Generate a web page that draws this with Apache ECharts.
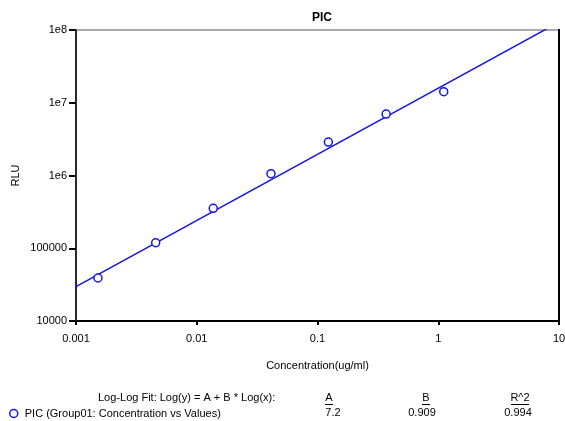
<!DOCTYPE html>
<html><head><meta charset="utf-8">
<script src="https://cdn.jsdelivr.net/npm/echarts@6/dist/echarts.min.js"></script>
<style>html,body{margin:0;padding:0;background:#fff}#c{width:565px;height:421px}</style>
</head><body><div id="c"></div>
<script>
var concentrations = [0.00152, 0.00457, 0.0137, 0.0412, 0.123, 0.370, 1.11];
var rluValues = [39000, 119000, 354000, 1060000, 2880000, 7000000, 14200000];
var fitA = 7.2, fitB = 0.909, fitR2 = 0.994;
var fitX = [0.001, 10];
var fitLine = fitX.map(function (x) { return [x, Math.pow(10, fitA + fitB * Math.log10(x))]; });
var yTickLabels = {10000: '10000', 100000: '100000', 1000000: '1e6', 10000000: '1e7', 100000000: '1e8'};
var xTickLabels = {0.001: '0.001', 0.01: '0.01', 0.1: '0.1', 1: '1', 10: '10'};
var FONT = 'Liberation Sans, Arial, sans-serif';
var BLUE = '#1414e6';

var chart = echarts.init(document.getElementById('c'));
chart.setOption({
  animation: false,
  title: {text: 'PIC', left: 317, top: 7, textAlign: 'center',
    textStyle: {fontFamily: FONT, fontSize: 12, fontWeight: 'bold', color: '#000'}},
  grid: {left: 76, right: 6, top: 30, bottom: 100, show: true, borderColor: '#555', borderWidth: 1,
    outerBoundsMode: 'none', containLabel: false},
  xAxis: {type: 'log', min: 0.001, max: 10, logBase: 10,
    name: 'Concentration(ug/ml)', nameLocation: 'middle', nameGap: 39, nameMoveOverlap: false,
    nameTextStyle: {fontFamily: FONT, fontSize: 11, color: '#000'},
    axisLine: {show: true, lineStyle: {color: '#000', width: 2}},
    axisTick: {show: true, length: 4, lineStyle: {color: '#000', width: 2}},
    minorTick: {show: false}, splitLine: {show: false},
    axisLabel: {fontFamily: FONT, fontSize: 11, color: '#000', margin: 12,
      formatter: function (v) { return xTickLabels[v] || String(v); }}},
  yAxis: {type: 'log', min: 10000, max: 100000000, logBase: 10,
    name: 'RLU', nameLocation: 'middle', nameGap: 55, nameRotate: 90, nameMoveOverlap: false,
    nameTextStyle: {fontFamily: FONT, fontSize: 11, color: '#000'},
    axisLine: {show: true, lineStyle: {color: '#000', width: 1.5}},
    axisTick: {show: true, length: 7, lineStyle: {color: '#000', width: 2}},
    splitLine: {show: false},
    axisLabel: {fontFamily: FONT, fontSize: 11, color: '#000', margin: 9,
      formatter: function (v) { return yTickLabels[v] || String(v); }}},
  legend: {show: true, data: [{name: 'PIC (Group01: Concentration vs Values)', icon: 'circle'}],
    left: 4, top: 403, itemWidth: 8, itemHeight: 8, itemGap: 5,
    itemStyle: {color: '#fff', borderColor: BLUE, borderWidth: 1.5},
    textStyle: {fontFamily: FONT, fontSize: 11, color: '#000', padding: [0, 0, 0, 2]}},
  graphic: [
    {type: 'rect', shape: {x: 558, y: 29, width: 2, height: 293}, style: {fill: '#000'}},
    {type: 'text', left: 98, top: 392, style: {text: 'Log-Log Fit: Log(y) = A + B * Log(x):', font: '11px ' + FONT, fill: '#000'}},
    {type: 'text', x: 329, y: 392, style: {text: 'A', font: '11px ' + FONT, fill: '#000', textAlign: 'center'}},
    {type: 'rect', shape: {x: 325, y: 404, width: 8, height: 1}, style: {fill: '#000'}},
    {type: 'text', x: 426, y: 392, style: {text: 'B', font: '11px ' + FONT, fill: '#000', textAlign: 'center'}},
    {type: 'rect', shape: {x: 422, y: 404, width: 8, height: 1}, style: {fill: '#000'}},
    {type: 'text', x: 520, y: 392, style: {text: 'R^2', font: '11px ' + FONT, fill: '#000', textAlign: 'center'}},
    {type: 'rect', shape: {x: 511, y: 404, width: 18, height: 1}, style: {fill: '#000'}},
    {type: 'text', x: 333, y: 407, style: {text: String(fitA), font: '11px ' + FONT, fill: '#000', textAlign: 'center'}},
    {type: 'text', x: 422, y: 407, style: {text: String(fitB), font: '11px ' + FONT, fill: '#000', textAlign: 'center'}},
    {type: 'text', x: 518, y: 407, style: {text: String(fitR2), font: '11px ' + FONT, fill: '#000', textAlign: 'center'}}
  ],
  series: [
    {name: 'fit', type: 'line', data: fitLine, showSymbol: false, symbol: 'none', clip: true,
      lineStyle: {color: BLUE, width: 1.5}, z: 2},
    {name: 'PIC (Group01: Concentration vs Values)', type: 'scatter',
      data: concentrations.map(function (c, i) { return [c, rluValues[i]]; }),
      symbol: 'circle', symbolSize: 8,
      itemStyle: {color: '#fff', borderColor: BLUE, borderWidth: 1.5, opacity: 1}, z: 3}
  ]
});
</script></body></html>
